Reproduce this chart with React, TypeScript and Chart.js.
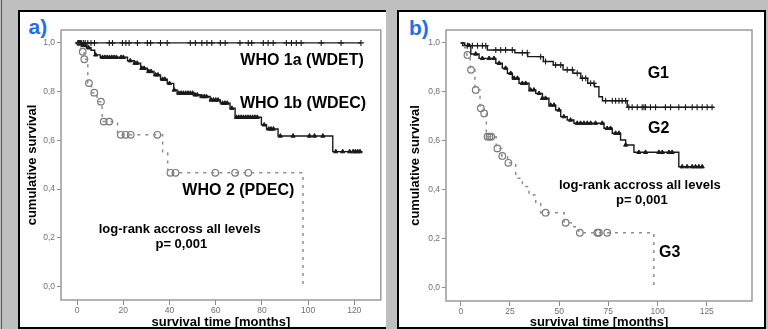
import React, { useEffect, useRef } from "react";
import { Chart, registerables } from "chart.js";

Chart.register(...registerables);
Chart.defaults.font.family = 'Arial, "Liberation Sans", sans-serif';

// ---------- shared axis ticks ----------
const yTicks = [0, 0.2, 0.4, 0.6, 0.8, 1.0];
const aXTicks = [0, 20, 40, 60, 80, 100, 120];
const bXTicks = [0, 25, 50, 75, 100, 125];

// ---------- panel a) ----------
const wdetTimes = [0, 122.9];
const wdetSurv = [1, 1];
const wdetCensor = [0.3, 0.8, 1.3, 2, 2.8, 3.5, 4.6, 6, 7.5, 13.9, 15.3, 19.6, 21.1, 22.5, 26.1, 30.4, 31.8, 36.1, 39, 49, 51.2, 54, 56.2, 58.3, 62, 64.1, 70.5, 74.1, 75.6, 80.6, 82.7, 84.9, 90.6, 92.8, 94.9, 97, 105.7, 114.3, 122.9];

const wdecTimes = [0, 2, 4, 6, 7.6, 10, 21.8, 24.7, 27.5, 30.4, 33.3, 36.1, 39, 41.8, 43.3, 50.5, 53.3, 57.6, 62, 66.2, 68.4, 79.8, 82, 87, 110.7, 123.6];
const wdecSurv = [1, 0.99, 0.98, 0.97, 0.951, 0.941, 0.927, 0.917, 0.896, 0.883, 0.869, 0.851, 0.834, 0.807, 0.794, 0.787, 0.78, 0.766, 0.753, 0.732, 0.695, 0.664, 0.647, 0.618, 0.554, 0.554];
const wdecCensor = [0.5, 1, 1.5, 2.5, 3, 3.5, 5, 8, 11, 12, 13, 14, 15, 16, 17, 19, 20, 23, 25, 26, 28, 29, 31, 32, 34, 35, 37, 38, 40, 42, 44, 45, 46, 47, 48, 49, 50, 51, 52, 54, 55, 56, 58, 59, 60, 61, 63, 64, 65, 67, 69, 70, 71, 72, 73, 74, 75, 76, 77, 78, 81, 83, 84, 85, 88, 93.5, 100.6, 102.8, 106.4, 112, 115, 118, 119.5, 120.5, 121.5, 122.5];

const pdecTimes = [0, 1.5, 3, 4.6, 6.2, 8.6, 10.8, 17.5, 37, 39.2, 97.8];
const pdecSurv = [1, 0.964, 0.933, 0.835, 0.796, 0.759, 0.677, 0.623, 0.548, 0.467, 0];
const pdecCensor = [2.4, 3.1, 5.1, 7.4, 10.3, 11.5, 13.9, 18.9, 21, 23.2, 34.7, 40.4, 42.6, 59.8, 68.4, 74.1];

// ---------- panel b) ----------
const g1Times = [0, 1, 13.5, 27.5, 34, 42, 47, 52, 57, 61, 64.5, 68, 70.2, 72, 84.6, 128.6];
const g1Surv = [1, 0.989, 0.971, 0.96, 0.944, 0.924, 0.91, 0.89, 0.876, 0.856, 0.835, 0.821, 0.78, 0.764, 0.737, 0.737];
const g1Censor = [3.4, 5.9, 8.5, 11, 12.7, 17.8, 20.3, 22.8, 26.2, 31.3, 33.8, 40.6, 43.1, 48.2, 50.8, 54.1, 56.7, 59.2, 61.8, 63.5, 66, 67.7, 73.6, 77, 78.7, 80.4, 82, 83.8, 85.4, 87.1, 89.7, 92.2, 93.1, 93.9, 96.4, 99, 104, 106.6, 110.8, 114.2, 117.6, 120.1, 122.7, 125.2, 127.7];

const g2Times = [0, 2, 5.1, 9.3, 17.8, 21.1, 23.7, 26.2, 29.6, 34.7, 38.1, 41.5, 44.8, 48.2, 50.8, 54.1, 57.5, 72.8, 77, 81.2, 83.8, 88, 110.8, 123.5];
const g2Surv = [1, 0.99, 0.955, 0.937, 0.917, 0.897, 0.876, 0.856, 0.835, 0.808, 0.794, 0.774, 0.746, 0.726, 0.699, 0.685, 0.672, 0.651, 0.631, 0.603, 0.583, 0.553, 0.494, 0.494];
const g2Censor = [4.2, 7.6, 11, 14.4, 16.9, 19.5, 22.8, 25.4, 27.1, 28.8, 31.3, 33, 35.5, 37.2, 39.8, 41.5, 43.1, 45.7, 47.4, 49.9, 52.4, 55.8, 59.2, 60.9, 62.6, 64.3, 66, 68.5, 71.9, 74.4, 76.1, 78.7, 80.4, 83.8, 90.5, 93.9, 100.7, 102.4, 105.8, 107.4, 112.5, 115, 117.6, 119.3, 121, 122.7];

const g3Times = [0, 1.5, 3, 4.8, 7.2, 9.8, 11.5, 13, 18, 20.8, 23.8, 27.9, 31.3, 34.7, 38.1, 40.6, 52.5, 57.5, 60, 98.1];
const g3Surv = [1, 0.98, 0.951, 0.89, 0.808, 0.733, 0.712, 0.617, 0.569, 0.538, 0.51, 0.447, 0.413, 0.378, 0.344, 0.306, 0.265, 0.249, 0.224, 0];
const g3Censor = [3.4, 5.2, 7.6, 10.2, 11.9, 13.6, 14.6, 15.5, 18.6, 21.1, 24.2, 43.1, 53.3, 60.5, 69.4, 70.2, 74.4];

// ---------- annotation texts (data coordinates) ----------
const aNotes = [
  { text: "WHO 1a (WDET)", x: 97.4, y: 0.926, size: 16 },
  { text: "WHO 1b (WDEC)", x: 97.8, y: 0.753, size: 16 },
  { text: "WHO 2 (PDEC)", x: 69.8, y: 0.393, size: 16 },
  { text: "log-rank accross all levels", x: 44.4, y: 0.235, size: 13 },
  { text: "p= 0,001", x: 45.1, y: 0.173, size: 13 },
];
const bNotes = [
  { text: "G1", x: 100.4, y: 0.876, size: 16 },
  { text: "G2", x: 100.6, y: 0.651, size: 16 },
  { text: "log-rank accross all levels", x: 91, y: 0.419, size: 13 },
  { text: "p= 0,001", x: 92, y: 0.356, size: 13 },
  { text: "G3", x: 106.2, y: 0.143, size: 16 },
];

const INK = "#1a1a1a";
const lineStyles: any = {
  solid: { borderColor: INK, borderWidth: 1.4, borderDash: [] },
  dashed: { borderColor: "#8c8c8c", borderWidth: 1.5, borderDash: [3, 5] },
};
const markerStyles: any = {
  cross: { pointStyle: "cross", pointRadius: 3, pointBorderColor: INK, pointBackgroundColor: INK, pointBorderWidth: 1.1 },
  tri: { pointStyle: "triangle", pointRadius: 2.4, pointBorderColor: INK, pointBackgroundColor: INK, pointBorderWidth: 1 },
  circ: { pointStyle: "circle", pointRadius: 3.3, pointBorderColor: "#7a7a7a", pointBackgroundColor: "rgba(0,0,0,0)", pointBorderWidth: 1.2 },
};

function stepAt(times: number[], surv: number[], t: number) {
  let v = surv[0];
  for (let i = 0; i < times.length; i++) {
    if (times[i] <= t) v = surv[i];
  }
  return v;
}

const panelA = {
  curves: [
    { times: wdetTimes, surv: wdetSurv, censor: wdetCensor, line: "solid", marker: "cross" },
    { times: wdecTimes, surv: wdecSurv, censor: wdecCensor, line: "solid", marker: "tri" },
    { times: pdecTimes, surv: pdecSurv, censor: pdecCensor, line: "dashed", marker: "circ" },
  ],
  xMin: -7, xMax: 131.5, xTicks: aXTicks, notes: aNotes,
  yAxisWidth: 41, xAxisHeight: 29, pad: { left: 0, top: 18, right: 3, bottom: 0 }, yTitlePad: 5.5,
  width: 366, height: 317,
};
const panelB = {
  curves: [
    { times: g1Times, surv: g1Surv, censor: g1Censor, line: "solid", marker: "cross" },
    { times: g2Times, surv: g2Surv, censor: g2Censor, line: "solid", marker: "tri" },
    { times: g3Times, surv: g3Surv, censor: g3Censor, line: "dashed", marker: "circ" },
  ],
  xMin: -7.5, xMax: 148, xTicks: bXTicks, notes: bNotes,
  yAxisWidth: 47, xAxisHeight: 28, pad: { left: 0, top: 18, right: 12, bottom: 0 }, yTitlePad: 9.5,
  width: 365, height: 317,
};

function buildConfig(p: any): any {
  const datasets: any[] = [];
  p.curves.forEach((c: any) => {
    datasets.push({
      type: "line",
      data: c.times.map((t: number, i: number) => ({ x: t, y: c.surv[i] })),
      stepped: true,
      fill: false,
      pointRadius: 0,
      ...lineStyles[c.line],
    });
  });
  p.curves.forEach((c: any) => {
    datasets.push({
      type: "line",
      showLine: false,
      data: c.censor.map((t: number) => ({ x: t, y: stepAt(c.times, c.surv, t) })),
      ...markerStyles[c.marker],
    });
  });

  const framePlugin = {
    id: "frameAndNotes",
    beforeDatasetsDraw(chart: any) {
      const { ctx, chartArea: a } = chart;
      ctx.save();
      ctx.strokeStyle = "#9a9a9a";
      ctx.lineWidth = 1.5;
      ctx.strokeRect(a.left, a.top, a.right - a.left, a.bottom - a.top);
      ctx.restore();
    },
    afterDatasetsDraw(chart: any) {
      const { ctx } = chart;
      const xs = chart.scales.x;
      const ys = chart.scales.y;
      ctx.save();
      ctx.fillStyle = "#000";
      ctx.textAlign = "center";
      ctx.textBaseline = "middle";
      p.notes.forEach((n: any) => {
        ctx.font = `bold ${n.size}px Arial, "Liberation Sans", sans-serif`;
        ctx.fillText(n.text, xs.getPixelForValue(n.x), ys.getPixelForValue(n.y));
      });
      ctx.restore();
    },
  };

  return {
    type: "line",
    data: { datasets },
    plugins: [framePlugin],
    options: {
      animation: false,
      responsive: false,
      events: [],
      layout: { padding: p.pad },
      plugins: { legend: { display: false }, tooltip: { enabled: false } },
      scales: {
        x: {
          type: "linear",
          position: "bottom",
          min: p.xMin,
          max: p.xMax,
          afterBuildTicks: (s: any) => { s.ticks = p.xTicks.map((v: number) => ({ value: v })); },
          afterFit: (s: any) => { s.height = p.xAxisHeight; },
          ticks: { autoSkip: false, maxRotation: 0, padding: 1, color: "#707070", font: { size: 8.5 }, callback: (v: any) => String(v) },
          grid: { display: true, drawOnChartArea: false, drawTicks: true, tickLength: 5, color: "#8a8a8a", lineWidth: 1 },
          border: { display: false },
          title: { display: true, text: "survival time [months]", color: "#000", font: { size: 13, weight: "bold", lineHeight: 1 }, padding: { top: 0, bottom: 0 } },
        },
        y: {
          type: "linear",
          position: "left",
          min: -0.055,
          max: 1.053,
          afterBuildTicks: (s: any) => { s.ticks = yTicks.map((v) => ({ value: v })); },
          afterFit: (s: any) => { s.width = p.yAxisWidth; },
          ticks: { padding: 2, color: "#707070", font: { size: 8.5 }, callback: (v: any) => Number(v).toFixed(1).replace(".", ",") },
          grid: { display: true, drawOnChartArea: false, drawTicks: true, tickLength: 4, color: "#8a8a8a", lineWidth: 1 },
          border: { display: false },
          title: { display: true, text: "cumulative survival", color: "#000", font: { size: 13, weight: "bold", lineHeight: 1 }, padding: { top: p.yTitlePad, bottom: 0 } },
        },
      },
    },
  };
}

function KMChart({ panel, left, top }: any) {
  const ref = useRef<HTMLCanvasElement | null>(null);
  useEffect(() => {
    const chart = new Chart(ref.current as HTMLCanvasElement, buildConfig(panel));
    return () => chart.destroy();
  }, []);
  return (
    <canvas
      ref={ref}
      width={panel.width}
      height={panel.height}
      style={{ position: "absolute", left, top, width: panel.width, height: panel.height }}
    />
  );
}

const panelLabel: any = {
  position: "absolute",
  font: 'bold 21px Arial, "Liberation Sans", sans-serif',
  lineHeight: "21px",
  color: "#1f6fe6",
  margin: 0,
};

export default function App() {
  return (
    <div style={{ position: "absolute", left: 0, top: 0, width: 768, height: 329, background: "#bfbfbf", overflow: "hidden" }}>
      <div style={{ position: "absolute", left: 1, top: 0, width: 1, height: 329, background: "#555" }} />
      <div style={{ position: "absolute", left: 18, top: 10, width: 366, height: 315, background: "#fff", borderLeft: "2px solid #000", borderTop: "2px solid #000", borderBottom: "2px solid #000" }} />
      <div style={{ position: "absolute", left: 397, top: 10, width: 365, height: 315, background: "#fff", border: "2px solid #000" }} />
      <div style={{ ...panelLabel, left: 28.5, top: 16 }}>a)</div>
      <div style={{ ...panelLabel, left: 409, top: 16.5 }}>b)</div>
      <KMChart panel={panelA} left={20} top={12} />
      <KMChart panel={panelB} left={399} top={12} />
    </div>
  );
}
